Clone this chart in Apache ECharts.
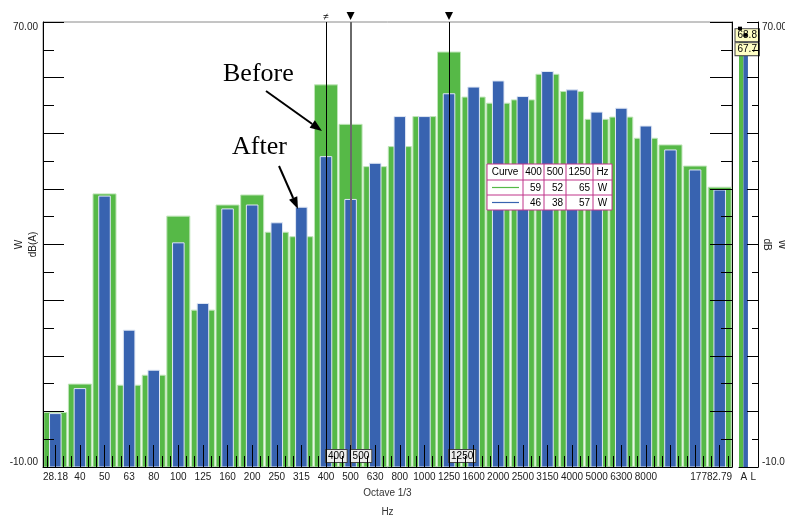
<!DOCTYPE html>
<html><head><meta charset="utf-8">
<script src="https://cdn.jsdelivr.net/npm/echarts@6/dist/echarts.min.js"></script>
<style>html,body{margin:0;padding:0;background:#fff}#c{width:785px;height:515px}</style>
</head><body><div id="c"></div>
<script>
// ---- data ----
const bands = ['31.5','40','50','63','80','100','125','160','200','250','315','400','500','630','800','1000','1250','1600','2000','2500','3150','4000','5000','6300','8000','10000','12500','16000'];
const bandTickLabels = ['','40','50','63','80','100','125','160','200','250','315','400','500','630','800','1000','1250','1600','2000','2500','3150','4000','5000','6300','8000','','',''];
const edgeLabels = ['28.18','17782.79'];
const beforeLevels = [-0.2, 4.9, 39.1, 4.7, 6.5, 35.1, 18.2, 37.1, 38.9, 32.2, 31.4, 58.7, 51.6, 44.0, 47.6, 53.0, 64.6, 56.5, 55.4, 56.0, 60.6, 57.5, 52.5, 52.9, 49.1, 47.9, 44.1, 40.3];
const afterLevels  = [-0.4, 4.1, 38.7, 14.6, 7.4, 30.3, 19.4, 36.4, 37.1, 33.9, 36.7, 45.8, 38.1, 44.6, 53.0, 53.0, 57.1, 58.3, 59.4, 56.6, 61.1, 57.8, 53.8, 54.5, 51.3, 47.0, 43.4, 39.8];
const overallCats = ['A','L'];
const overallBefore = 68.8;
const overallAfter = 67.7;
const cursors = ['400','500','1250'];
const yMin = -10, yMax = 70, yStep = 10;

// ---- style ----
const GREEN = '#56b947', GREEN_EDGE = '#bfe5b8';
const BLUE = '#3863b0', BLUE_EDGE = '#dfe7f4';
const FONT = 'Liberation Sans, Arial, sans-serif';
const SERIF = '26px Liberation Serif, Times New Roman, serif';
const TOPZ = 100;

const chart = echarts.init(document.getElementById('c'), null, {renderer: 'canvas'});

function barRender(ratio, fill, stroke) {
  return function (params, api) {
    const i = api.value(0), v = api.value(1);
    const top = api.coord([i, v]);
    const base = api.coord([i, yMin]);
    const w = api.size([1, 0])[0] * ratio;
    return {type: 'rect',
      shape: {x: top[0] - w / 2, y: top[1], width: w, height: base[1] - top[1]},
      style: {fill: fill, stroke: stroke, lineWidth: 1}};
  };
}

function overallRender(params, api) {
  const i = api.value(0);
  const vb = api.value(1), va = api.value(2);
  const tb = api.coord([i, vb]), ta = api.coord([i, va]);
  const base = api.coord([i, yMin]);
  const bw = api.size([1, 0])[0];
  const half = bw * 0.47;
  const left = tb[0] - bw / 2;
  const boxH = 13.5;
  const boxX = left - 3.5;
  const boxStyle = (t) => ({text: t, fill: '#000', font: '10px ' + FONT,
    backgroundColor: '#ffffc4', borderColor: '#444', borderWidth: 1,
    padding: [1, 2, 1, 2], align: 'left', verticalAlign: 'top'});
  const box2Y = Math.max(ta[1], tb[1] + boxH + 1);
  return {type: 'group', children: [
    {type: 'rect', shape: {x: left, y: tb[1], width: half, height: base[1] - tb[1]}, style: {fill: GREEN}},
    {type: 'rect', shape: {x: left + half, y: ta[1], width: half, height: base[1] - ta[1]}, style: {fill: BLUE}},
    {type: 'text', x: boxX, y: tb[1] + 0.5, style: boxStyle(vb.toFixed(1))},
    {type: 'text', x: boxX, y: box2Y, style: boxStyle(va.toFixed(1))},
    {type: 'rect', shape: {x: left - 1, y: tb[1] - 2, width: 4, height: 3.5}, style: {fill: '#000'}},
    {type: 'rect', shape: {x: left + half, y: ta[1] - 1.5, width: 4, height: 3.5}, style: {fill: '#000'}}
  ]};
}

function arrow(x1, y1, x2, y2) {
  const a = Math.atan2(y2 - y1, x2 - x1), L = 12, W = 4.5;
  const bx = x2 - L * Math.cos(a), by = y2 - L * Math.sin(a);
  return [
    {type: 'line', z: TOPZ, shape: {x1: x1, y1: y1, x2: bx, y2: by}, style: {stroke: '#000', lineWidth: 2}},
    {type: 'polygon', z: TOPZ, shape: {points: [[x2, y2], [bx + W * Math.sin(a), by - W * Math.cos(a)], [bx - W * Math.sin(a), by + W * Math.cos(a)]]}, style: {fill: '#000'}}
  ];
}

// cursor table, built from the data arrays
function tableGraphic() {
  const colX = [487, 523, 544, 566, 593, 612];
  const rowY = [164, 180, 195, 210];
  const border = '#c0348a';
  const ch = [];
  ch.push({type: 'rect', z: TOPZ, shape: {x: colX[0], y: rowY[0], width: colX[5] - colX[0], height: rowY[3] - rowY[0]}, style: {fill: '#fff', stroke: border, lineWidth: 1}});
  colX.slice(1, 5).forEach(x => ch.push({type: 'line', z: TOPZ + 1, shape: {x1: x, y1: rowY[0], x2: x, y2: rowY[3]}, style: {stroke: border, lineWidth: 1}}));
  rowY.slice(1, 3).forEach(y => ch.push({type: 'line', z: TOPZ + 1, shape: {x1: colX[0], y1: y, x2: colX[5], y2: y}, style: {stroke: border, lineWidth: 1}}));
  const txt = (t, x, y, align) => ({type: 'text', z: TOPZ + 2, x: x, y: y, style: {text: t, fill: '#000', font: '10px ' + FONT, align: align, verticalAlign: 'middle'}});
  const mid = (a, b) => (a + b) / 2;
  const header = ['Curve'].concat(cursors).concat(['Hz']);
  header.forEach((h, k) => ch.push(txt(h, mid(colX[k], colX[k + 1]), mid(rowY[0], rowY[1]) + 0.5, 'center')));
  const rows = [[GREEN, beforeLevels], [BLUE, afterLevels]];
  rows.forEach((r, ri) => {
    const yc = mid(rowY[ri + 1], rowY[ri + 2]);
    ch.push({type: 'line', z: TOPZ + 1, shape: {x1: colX[0] + 5, y1: yc, x2: colX[1] - 4, y2: yc}, style: {stroke: r[0], lineWidth: 1.2}});
    cursors.forEach((c, k) => {
      const v = r[1][bands.indexOf(c)];
      ch.push(txt(Math.round(v).toString(), colX[k + 2] - 3, yc + 0.5, 'right'));
    });
    ch.push(txt('W', mid(colX[4], colX[5]), yc + 0.5, 'center'));
  });
  return ch;
}

const yLabelFmt = v => (v === yMin || v === yMax) ? v.toFixed(2) : '';
const nameStyle = {fontSize: 10, color: '#222'};

const option = {
  animation: false,
  backgroundColor: '#fff',
  textStyle: {fontFamily: FONT},
  grid: [
    {left: 43, right: 53, top: 22, bottom: 48, show: true, borderColor: '#8a8a8a', borderWidth: 1, backgroundColor: 'transparent', outerBoundsMode: 'none', containLabel: false},
    {left: 739, right: 27, top: 22, bottom: 48, show: false, outerBoundsMode: 'none', containLabel: false}
  ],
  xAxis: [
    {type: 'category', gridIndex: 0, data: bands, position: 'bottom', z: 10,
      axisLine: {show: true, onZero: false, lineStyle: {color: '#000', width: 1}},
      axisTick: {show: true, inside: true, length: 22, alignWithLabel: true, interval: 0, lineStyle: {color: '#000'}},
      axisLabel: {interval: 0, margin: 5, fontSize: 10, color: '#222', formatter: (v, i) => bandTickLabels[i]},
      name: 'Octave 1/3', nameLocation: 'middle', nameGap: 21, nameMoveOverlap: false, nameTextStyle: {fontSize: 10, color: '#333'}},
    {type: 'category', gridIndex: 0, data: Array.from({length: bands.length * 3}, (_, k) => k), position: 'bottom', z: 10,
      axisLine: {show: false, onZero: false},
      axisTick: {show: true, inside: true, length: 11, alignWithLabel: true, interval: 0, lineStyle: {color: '#000'}},
      axisLabel: {show: false}},
    {type: 'value', gridIndex: 0, min: 0, max: bands.length, interval: bands.length, position: 'bottom', z: 10,
      axisLine: {show: false, onZero: false}, axisTick: {show: false}, splitLine: {show: false},
      axisLabel: {margin: 5, fontSize: 10, color: '#222', alignMinLabel: 'left', alignMaxLabel: 'right',
        formatter: v => v === 0 ? edgeLabels[0] : (v === bands.length ? edgeLabels[1] : '')},
      name: 'Hz', nameLocation: 'middle', nameGap: 40, nameMoveOverlap: false, nameTextStyle: {fontSize: 10, color: '#333'}},
    {type: 'category', gridIndex: 1, data: overallCats, position: 'bottom', z: 10,
      axisLine: {show: true, onZero: false, lineStyle: {color: '#000'}}, axisTick: {show: false},
      axisLabel: {interval: 0, margin: 5, fontSize: 10, color: '#222'}}
  ],
  yAxis: [
    {type: 'value', gridIndex: 0, position: 'left', min: yMin, max: yMax, interval: yStep, z: 10,
      axisLine: {show: true, onZero: false, lineStyle: {color: '#000'}},
      axisTick: {show: true, inside: true, length: 21, lineStyle: {color: '#000'}},
      minorTick: {show: true, splitNumber: 2, length: 11, lineStyle: {color: '#000'}},
      splitLine: {show: false},
      axisLabel: {formatter: yLabelFmt, fontSize: 10, color: '#222', margin: 5, showMinLabel: true, showMaxLabel: true,
        verticalAlignMaxLabel: 'top', verticalAlignMinLabel: 'bottom'},
      name: 'dB(A)', nameLocation: 'middle', nameGap: 5, nameMoveOverlap: false, nameTextStyle: nameStyle},
    {type: 'value', gridIndex: 0, position: 'left', min: yMin, max: yMax, interval: yStep,
      axisLine: {show: false, onZero: false}, axisTick: {show: false}, axisLabel: {show: false}, splitLine: {show: false},
      name: 'W', nameLocation: 'middle', nameGap: 19, nameMoveOverlap: false, nameTextStyle: nameStyle},
    {type: 'value', gridIndex: 0, position: 'right', min: yMin, max: yMax, interval: yStep, z: 10,
      axisLine: {show: true, onZero: false, lineStyle: {color: '#000'}},
      axisTick: {show: true, inside: true, length: 22, lineStyle: {color: '#000'}},
      minorTick: {show: true, splitNumber: 2, length: 11, lineStyle: {color: '#000'}},
      axisLabel: {show: false}, splitLine: {show: false}},
    {type: 'value', gridIndex: 1, position: 'right', min: yMin, max: yMax, interval: yStep, z: 10,
      axisLine: {show: true, onZero: false, lineStyle: {color: '#000'}},
      axisTick: {show: true, inside: true, length: 11, lineStyle: {color: '#000'}},
      minorTick: {show: true, splitNumber: 2, length: 6, lineStyle: {color: '#000'}},
      splitLine: {show: false},
      axisLabel: {formatter: yLabelFmt, fontSize: 10, color: '#222', margin: 4, showMinLabel: true, showMaxLabel: true,
        verticalAlignMaxLabel: 'top', verticalAlignMinLabel: 'bottom'},
      name: 'dB', nameLocation: 'middle', nameGap: 4, nameRotate: -90, nameMoveOverlap: false, nameTextStyle: nameStyle},
    {type: 'value', gridIndex: 1, position: 'right', min: yMin, max: yMax, interval: yStep,
      axisLine: {show: false, onZero: false}, axisTick: {show: false}, axisLabel: {show: false}, splitLine: {show: false},
      name: 'W', nameLocation: 'middle', nameGap: 19, nameRotate: -90, nameMoveOverlap: false, nameTextStyle: nameStyle}
  ],
  series: [
    {type: 'custom', name: 'Before', xAxisIndex: 0, yAxisIndex: 0, z: 2,
      data: beforeLevels.map((v, i) => [i, v]), encode: {x: 0, y: 1},
      renderItem: barRender(0.935, GREEN, GREEN_EDGE)},
    {type: 'custom', name: 'After', xAxisIndex: 0, yAxisIndex: 0, z: 3,
      data: afterLevels.map((v, i) => [i, v]), encode: {x: 0, y: 1},
      renderItem: barRender(0.47, BLUE, BLUE_EDGE)},
    {type: 'custom', name: 'Overall', xAxisIndex: 3, yAxisIndex: 3, z: 3,
      data: [[0, overallBefore, overallAfter]], encode: {x: 0, y: [1, 2]},
      renderItem: overallRender, clip: false},
    {type: 'line', name: 'cursors', xAxisIndex: 0, yAxisIndex: 0, z: 20,
      data: bands.map(() => null), symbol: 'none', silent: true,
      markLine: {silent: true, symbol: 'none', label: {show: false}, animation: false,
        data: [
          {xAxis: cursors[0], lineStyle: {color: '#000', width: 1, type: 'solid'}},
          {xAxis: cursors[1], lineStyle: {color: '#6a6a6a', width: 2, type: 'solid'}},
          {xAxis: cursors[2], lineStyle: {color: '#000', width: 1, type: 'solid'}}
        ]},
      markPoint: {silent: true, animation: false,
        data: [
          {coord: [cursors[0], yMax], symbol: 'rect', symbolSize: 0,
            label: {show: true, formatter: '\u2260', position: 'top', distance: 0, fontSize: 10, color: '#000'}},
          {coord: [cursors[1], yMax], symbol: 'triangle', symbolRotate: 180, symbolSize: [8, 8], symbolOffset: [0, -6],
            itemStyle: {color: '#000'}, label: {show: false}},
          {coord: [cursors[2], yMax], symbol: 'triangle', symbolRotate: 180, symbolSize: [8, 8], symbolOffset: [0, -6],
            itemStyle: {color: '#000'}, label: {show: false}}
        ].concat(cursors.map(c => ({coord: [c, yMin], symbol: 'rect', symbolSize: 0,
          label: {show: true, formatter: c, position: 'right', distance: 0, offset: [0, -11],
            fontSize: 10, color: '#000', backgroundColor: '#ececec', borderColor: '#444', borderWidth: 1,
            padding: [1, 2, 0, 2], lineHeight: 11}})))}
    }
  ],
  graphic: {elements: [
    {type: 'text', z: TOPZ, left: 223, top: 61, style: {text: 'Before', font: SERIF, fill: '#000'}},
    {type: 'text', z: TOPZ, left: 232, top: 134, style: {text: 'After', font: SERIF, fill: '#000'}}
  ].concat(arrow(266, 91, 322, 131)).concat(arrow(279, 166, 298, 209)).concat(tableGraphic())}
};
chart.setOption(option);
</script>
</body></html>
